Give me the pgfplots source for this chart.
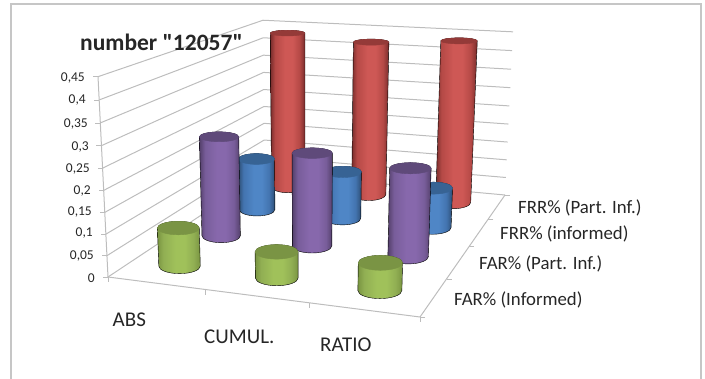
\documentclass[border=0pt]{standalone}
\usepackage{fontspec}
\setmainfont{Carlito}
\newfontfamily\titlefont{Carlito}
\usepackage{pgfplots}
\usepackage{pgfplotstable}
\pgfplotsset{compat=1.18}

% Body colours of the cylinders: edge, mid tone, highlight, cap
\definecolor{redE}{HTML}{772C2B}\definecolor{redM}{HTML}{B54946}\definecolor{redH}{HTML}{CE5855}\definecolor{redC}{HTML}{943A38}
\definecolor{purE}{HTML}{54406B}\definecolor{purM}{HTML}{785D9A}\definecolor{purH}{HTML}{8768AC}\definecolor{purC}{HTML}{5F4A7A}
\definecolor{bluE}{HTML}{2D4E74}\definecolor{bluM}{HTML}{4374B0}\definecolor{bluH}{HTML}{4F86C6}\definecolor{bluC}{HTML}{376394}
\definecolor{griE}{HTML}{7A9542}\definecolor{griM}{HTML}{91AF53}\definecolor{griH}{HTML}{A0C15A}\definecolor{griC}{HTML}{7A9444}
\definecolor{gridc}{HTML}{BDBDBD}
\definecolor{framec}{HTML}{C6C6C6}
\definecolor{textc}{HTML}{262626}

\newcommand{\cylshading}[2]{%
  \pgfdeclarehorizontalshading{#1}{100bp}{%
    color(0bp)=(#2E); color(25bp)=(#2E); color(32bp)=(#2M); color(46bp)=(#2H);
    color(57bp)=(#2H); color(67bp)=(#2M); color(75bp)=(#2E); color(100bp)=(#2E)}}
\cylshading{cylred}{red}
\cylshading{cylpur}{pur}
\cylshading{cylblu}{blu}
\cylshading{cylgri}{gri}

\pgfplotstableread{
c s val
0.5 3.5 0.435
1.5 3.5 0.422
2.5 3.5 0.437
}\frrpart
\pgfplotstableread{
c s val
0.5 2.5 0.138
1.5 2.5 0.124
2.5 2.5 0.103
}\frrinf
\pgfplotstableread{
c s val
0.5 1.5 0.250
1.5 1.5 0.229
2.5 1.5 0.213
}\farpart
\pgfplotstableread{
c s val
0.5 0.5 0.091
1.5 0.5 0.061
2.5 0.5 0.063
}\farinf

% Cylinder drawn at each data point from its value, in the chart's perspective
\pgfplotsset{
  cyl/.style 2 args={
    scatter, only marks, mark=nil,
    visualization depends on={21.3/den(\thisrow{c}/3,\thisrow{s}/4,0) \as \cylHb},
    visualization depends on={21.3/den(\thisrow{c}/3,\thisrow{s}/4,\thisrow{val}/0.45) \as \cylHt},
    visualization depends on={px(\thisrow{c}/3,\thisrow{s}/4,\thisrow{val}/0.45)-px(\thisrow{c}/3,\thisrow{s}/4,0) \as \cylDx},
    visualization depends on={py(\thisrow{c}/3,\thisrow{s}/4,0)-py(\thisrow{c}/3,\thisrow{s}/4,\thisrow{val}/0.45) \as \cylDy},
    visualization depends on={2.2+0.02*py(\thisrow{c}/3,\thisrow{s}/4,0) \as \cylEb},
    visualization depends on={2.2+0.02*py(\thisrow{c}/3,\thisrow{s}/4,\thisrow{val}/0.45) \as \cylEt},
    scatter/@pre marker code/.code={%
      \pgfscope
      \shade[shading=#1]
        (-\cylHb bp,0) arc[start angle=180,end angle=360,x radius=\cylHb bp,y radius=\cylEb bp]
        -- (\cylDx bp+\cylHt bp,\cylDy bp)
        arc[start angle=0,end angle=180,x radius=\cylHt bp,y radius=\cylEt bp] -- cycle;
      \fill[#2] (\cylDx bp,\cylDy bp) ellipse[x radius=\cylHt bp,y radius=\cylEt bp];
    },
    scatter/@post marker code/.code={\endpgfscope},
  },
  table/base/.style={
    x expr={px(\thisrow{c}/3,\thisrow{s}/4,0)},
    y expr={py(\thisrow{c}/3,\thisrow{s}/4,0)},
  },
  table/proj/.style={
    row sep=\\,
    x expr={px(\thisrow{c}/3,\thisrow{s}/4,\thisrow{val}/0.45)},
    y expr={py(\thisrow{c}/3,\thisrow{s}/4,\thisrow{val}/0.45)},
  },
}
\pgfdeclareplotmark{nil}{}

\tikzset{
  lab/.style={font=\fontsize{13.5bp}{15bp}\selectfont, text=textc, inner sep=0pt, anchor=east},
  cat/.style={font=\fontsize{21bp}{23bp}\selectfont, text=textc, inner sep=0pt, anchor=west},
  ser/.style={font=\fontsize{18.8bp}{21bp}\selectfont, text=textc, inner sep=0pt, anchor=west},
}

\begin{document}
\begin{tikzpicture}[
  declare function={
    den(\u,\v,\w)=-0.08821*\u+0.32903*\v+1-0.048*\w;
    px(\u,\v,\w)=(274.95*\u+243.66*\v+108-14.69*\w)/den(\u,\v,\w);
    py(\u,\v,\w)=(12.04*\u-47.08*\v+277-204*\w)/den(\u,\v,\w);
  }]
\useasboundingbox (0,0) rectangle (705bp,379bp);
\begin{axis}[
  at={(0,0)}, anchor=south west,
  scale only axis, width=705bp, height=379bp,
  xmin=0, xmax=705, ymin=0, ymax=379, y dir=reverse,
  axis lines=none, clip=false,
  every axis plot/.append style={line join=round},
]
% Outer chart frame
\draw[framec, line width=1.5bp] (axis cs:11,379) -- (axis cs:11,4) -- (axis cs:701,4) -- (axis cs:701,379);

% Wall gridlines, one per tick value
\pgfplotsinvokeforeach{0,0.05,0.1,0.15,0.2,0.25,0.3,0.35,0.4,0.45}{
  \addplot[gridc, line width=1bp] table[proj]{c s val\\ 0 0 #1\\ 0 4 #1\\ 3 4 #1\\};
}
% Floor edges and value axis
\addplot[gridc, line width=1bp] table[proj]{c s val\\ 0 0 0.45\\ 0 0 0\\ 3 0 0\\ 3 4 0\\};
% Tick marks
\addplot[gridc, only marks, mark=-, mark size=2.5bp, mark options={xshift=-2.5bp}] table[proj]{c s val\\ 0 0 0\\ 0 0 0.05\\ 0 0 0.1\\ 0 0 0.15\\ 0 0 0.2\\ 0 0 0.25\\ 0 0 0.3\\ 0 0 0.35\\ 0 0 0.4\\ 0 0 0.45\\};
\addplot[gridc, only marks, mark=|, mark size=2.5bp, mark options={yshift=-2.5bp}] table[proj]{c s val\\ 0 0 0\\ 1 0 0\\ 2 0 0\\ 3 0 0\\};
\addplot[gridc, only marks, mark=-, mark size=2.5bp, mark options={xshift=2.5bp}] table[proj]{c s val\\ 3 0 0\\ 3 1 0\\ 3 2 0\\ 3 3 0\\ 3 4 0\\};

% Cylinders from back row to front row
\addplot[cyl={cylred}{redC}] table[base] {\frrpart};
\addplot[cyl={cylblu}{bluC}] table[base] {\frrinf};
\addplot[cyl={cylpur}{purC}] table[base] {\farpart};
\addplot[cyl={cylgri}{griC}] table[base] {\farinf};

% Title
\node[font=\titlefont\bfseries\fontsize{23.5bp}{26bp}\selectfont, text=textc, inner sep=0pt, anchor=west] at (axis cs:80,42) {number "12057"};

% Value labels
\node[lab] at (axis cs:85,78) {0,45};
\node[lab] at (axis cs:86,100) {0,4};
\node[lab] at (axis cs:88,124) {0,35};
\node[lab] at (axis cs:89,147) {0,3};
\node[lab] at (axis cs:90,169) {0,25};
\node[lab] at (axis cs:91,191) {0,2};
\node[lab] at (axis cs:92,212) {0,15};
\node[lab] at (axis cs:93,233) {0,1};
\node[lab] at (axis cs:94,256) {0,05};
\node[lab] at (axis cs:95,278) {0};

% Category labels
\node[cat] at (axis cs:112.5,320) {ABS};
\node[cat] at (axis cs:204,337) {CUMUL.};
\node[cat] at (axis cs:320,345) {RATIO};

% Series labels
\node[ser] at (axis cs:518,208) {FRR\% (Part. Inf.)};
\node[ser] at (axis cs:500,234) {FRR\% (informed)};
\node[ser] at (axis cs:479,264) {FAR\% (Part. Inf.)};
\node[ser] at (axis cs:454,300) {FAR\% (Informed)};
\end{axis}
\end{tikzpicture}
\end{document}
